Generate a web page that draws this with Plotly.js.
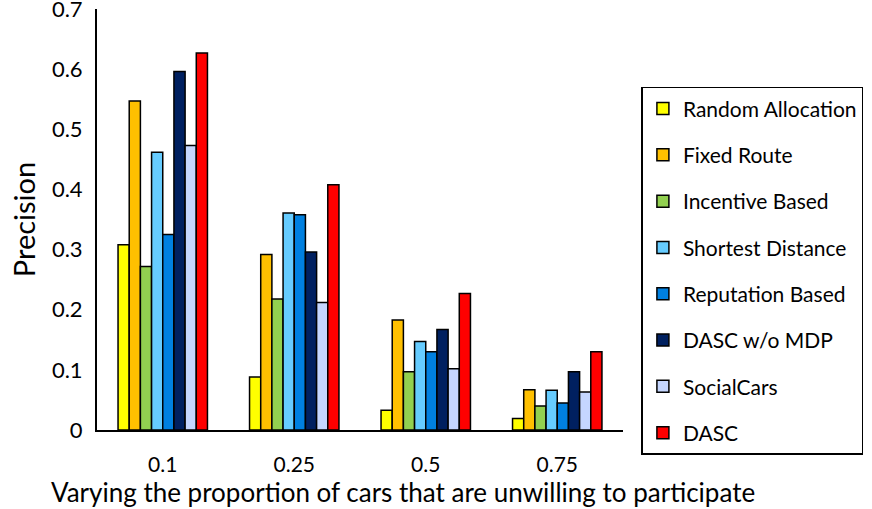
<!DOCTYPE html>
<html>
<head>
<meta charset="utf-8">
<script src="https://cdn.plot.ly/plotly-3.0.1.min.js"></script>
<style>
  html, body { margin: 0; padding: 0; background: #fff; }
  #chart { width: 872px; height: 509px; }
</style>
</head>
<body>
<div id="chart"></div>
<script>
// proportion of unwilling cars (x categories)
const proportions = ['0.1', '0.25', '0.5', '0.75'];

// precision per method
const randomAllocation  = [0.308, 0.088, 0.033, 0.019];
const fixedRoute        = [0.547, 0.292, 0.183, 0.067];
const incentiveBased    = [0.272, 0.218, 0.097, 0.040];
const shortestDistance  = [0.462, 0.361, 0.147, 0.066];
const reputationBased   = [0.325, 0.358, 0.130, 0.045];
const dascNoMdp         = [0.596, 0.296, 0.167, 0.097];
const socialCars        = [0.473, 0.212, 0.102, 0.063];
const dasc              = [0.627, 0.408, 0.227, 0.130];

const seriesNames = ['Random Allocation', 'Fixed Route', 'Incentive Based', 'Shortest Distance',
                     'Reputation Based', 'DASC w/o MDP', 'SocialCars', 'DASC'];
const seriesValues = [randomAllocation, fixedRoute, incentiveBased, shortestDistance,
                      reputationBased, dascNoMdp, socialCars, dasc];
const seriesColors = ['#FFFF00', '#FFC000', '#92D050', '#66CCFF',
                      '#0080E0', '#002060', '#C5D6FF', '#FF0000'];

const fontFamily = "Lato, 'Open Sans', sans-serif";

const traces = seriesNames.map((name, i) => ({
    type: 'bar',
    name: name,
    x: proportions,
    y: seriesValues[i],
    legendgroup: 'g' + i,
    marker: {
        color: seriesColors[i],
        line: { color: '#000000', width: 1.5 }
    },
    hoverinfo: 'name+y'
}));

const layout = {
    width: 872,
    height: 509,
    margin: { l: 97, r: 242, t: 9, b: 79 },
    paper_bgcolor: '#ffffff',
    plot_bgcolor: '#ffffff',
    font: { family: fontFamily, size: 22, color: '#000000' },
    barmode: 'group',
    bargap: 0.32,
    bargroupgap: 0,
    showlegend: true,
    legend: {
        x: 1.035,
        xanchor: 'left',
        y: 0.815,
        yanchor: 'top',
        traceorder: 'grouped',
        tracegroupgap: 16,
        itemwidth: 30,
        bordercolor: '#000000',
        borderwidth: 1.5,
        bgcolor: '#ffffff',
        font: { family: fontFamily, size: 21, color: '#000000' }
    },
    xaxis: {
        type: 'category',
        showline: true,
        linecolor: '#000000',
        linewidth: 2,
        ticks: '',
        showgrid: false,
        tickfont: { size: 21 },
        ticklabelstandoff: 15
    },
    yaxis: {
        range: [0, 0.7001],
        dtick: 0.1,
        tickformat: '.1~f',
        showline: true,
        linecolor: '#000000',
        linewidth: 2,
        ticks: '',
        showgrid: false,
        zeroline: false,
        tickfont: { size: 22 },
        ticklabelstandoff: 8,
        ticklabeloverflow: 'allow',
        title: { text: 'Precision', font: { size: 29 }, standoff: 8 }
    },
    annotations: [{
        // x-axis title, sits a little right of the plot centre in the original
        text: 'Varying the proportion of cars that are unwilling to participate',
        xref: 'paper', yref: 'paper',
        x: 0.5816, y: -0.148,
        xanchor: 'center', yanchor: 'middle',
        showarrow: false,
        font: { family: fontFamily, size: 26, color: '#000000' }
    }]
};

Plotly.newPlot('chart', traces, layout, { displayModeBar: false, responsive: false });
</script>
</body>
</html>
